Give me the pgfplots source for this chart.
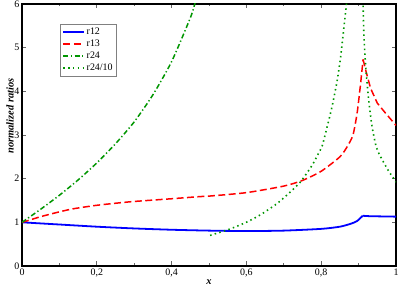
\documentclass[border=0pt]{standalone}
\usepackage{pgfplots}
\pgfplotsset{compat=1.18}
\usepackage{fontspec}
\setmainfont{Liberation Serif}
\definecolor{mygreen}{RGB}{0,150,0}
\begin{document}
\begin{tikzpicture}
\begin{axis}[name=ax,
  scale only axis, width=374bp, height=262bp,
  xmin=0, xmax=1, ymin=0, ymax=6,
  xtick={0,0.2,0.4,0.6,0.8,1}, minor xtick={0.1,0.3,0.5,0.7,0.9},
  ytick={0,1,2,3,4,5,6},
  xticklabels={0,{0,2},{0,4},{0,6},{0,8},1},
  tick align=inside,
  major tick length=4.5bp, minor tick length=2.5bp,
  tick style={gray!80!black, line width=0.9pt},
  axis line style={line width=1.3pt},
  ticklabel style={font=\fontsize{10}{11}\selectfont},
  /pgf/number format/assume math mode=true,
  xlabel={\textbf{\textit{x}}}, ylabel={\textbf{\textit{normalized ratios}}},
  label style={font=\fontsize{10.5}{12}\selectfont},
  xlabel style={yshift=4bp},
  ylabel style={at={(ticklabel cs:0.573)}, yshift=-6bp},
  xticklabel style={yshift=1bp},
  yticklabel style={xshift=1bp},
  legend style={at={(rel axis cs:0.102,0.925)}, anchor=north west, draw=gray, line width=0.7pt,
     font=\fontsize{10}{11}\selectfont, row sep=0pt, inner sep=2pt},
  legend cell align=left,
  legend image code/.code={\draw[#1] (0cm,0cm) -- (0.72cm,0cm);},
  clip=true,
]
\addplot[blue, line width=1.8pt, smooth, tension=0.4] coordinates {
(0,1) (0.1,0.95) (0.2,0.90) (0.3,0.86) (0.4,0.83) (0.5,0.81) (0.6,0.80) (0.7,0.81) (0.8,0.85) (0.85,0.90) (0.88,0.97) (0.896,1.03) (0.911,1.15)};
\addplot[blue, line width=1.8pt, forget plot] coordinates {(0.911,1.15) (0.93,1.14) (1.0,1.13)};
\addlegendentry{r12}
\addplot[red, line width=1.5pt, dash pattern=on 7pt off 3.5pt, smooth, tension=0.4] coordinates {
(0,1) (0.02,1.05) (0.05,1.13) (0.1,1.24) (0.137,1.31) (0.2,1.39) (0.289,1.47) (0.4,1.54) (0.477,1.59) (0.5,1.60) (0.6,1.68) (0.7,1.83) (0.75,1.96) (0.8,2.17) (0.85,2.50) (0.87,2.74) (0.885,3.00) (0.896,3.50) (0.905,4.15) (0.912,4.73)};
\addlegendentry{r13}
\addplot[red, line width=1.5pt, dash pattern=on 7pt off 3.5pt, forget plot] coordinates {
(0.912,4.73) (0.920,4.45) (0.932,4.07) (0.950,3.73) (0.972,3.50) (1.0,3.22)};
\addplot[mygreen, line width=1.5pt, dash pattern=on 5pt off 2.5pt on 1.3pt off 2.5pt, smooth, tension=0.4] coordinates {
(0,1) (0.05,1.30) (0.1,1.62) (0.15,1.97) (0.2,2.36) (0.25,2.80) (0.3,3.30) (0.35,3.92) (0.4,4.68) (0.45,5.68) (0.462,6.0) (0.47,6.2)};
\addlegendentry{r24}
\addplot[mygreen, line width=1.6pt, dash pattern=on 1.5pt off 3.3pt, smooth, tension=0.4] coordinates {
(0.503,0.70) (0.557,0.85) (0.602,1.01) (0.637,1.17) (0.682,1.43) (0.718,1.70) (0.745,1.93) (0.776,2.31) (0.794,2.60) (0.803,2.76) (0.816,3.19) (0.829,3.65) (0.843,4.26) (0.852,4.79) (0.859,5.33) (0.867,5.95) (0.872,6.4)};
\addlegendentry{r24/10}
\addplot[mygreen, line width=1.6pt, dash pattern=on 1.5pt off 3.3pt, smooth, tension=0.4, forget plot] coordinates {
(0.911,6.4) (0.912,5.98) (0.914,5.33) (0.919,4.56) (0.927,3.80) (0.936,3.19) (0.947,2.73) (0.954,2.58) (0.977,2.22) (0.994,2.00) (1.0,1.92)};
\end{axis}
\pgfresetboundingbox
\path ([shift={(-22bp,-22bp)}]ax.south west) rectangle ([shift={(3bp,4bp)}]ax.north east);
\end{tikzpicture}
\end{document}
